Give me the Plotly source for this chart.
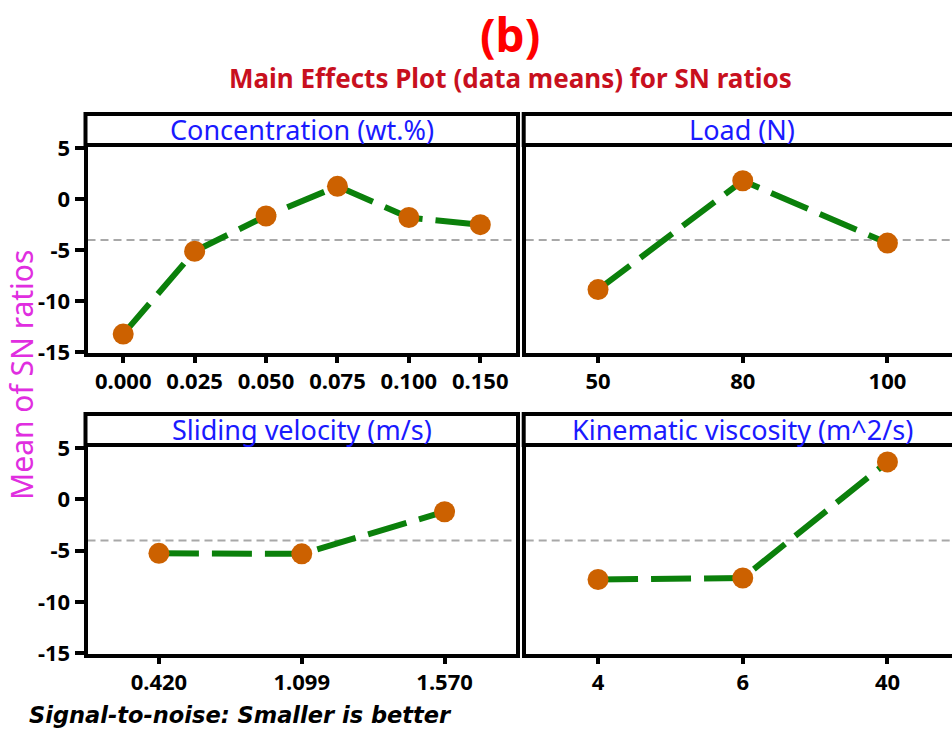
import plotly.graph_objects as go

# Factor levels and mean S/N ratios (smaller-is-better)
conc_levels = ["0.000", "0.025", "0.050", "0.075", "0.100", "0.150"]
conc_sn = [-13.2, -5.1, -1.65, 1.25, -1.8, -2.5]

load_levels = ["50", "80", "100"]
load_sn = [-8.85, 1.8, -4.3]

vel_levels = ["0.420", "1.099", "1.570"]
vel_sn = [-5.25, -5.3, -1.2]

visc_levels = ["4", "6", "40"]
visc_sn = [-7.8, -7.65, 3.65]

grand_mean = -4.0

panel_titles = ["Concentration (wt.%)", "Load (N)",
                "Sliding velocity (m/s)", "Kinematic viscosity (m^2/s)"]

W, H = 952, 731
FONT = "Noto Sans"
LINE_GREEN = "#0b800b"
MARKER_ORANGE = "#cc6100"


def px_x(p):
    return p / W


def px_y(p):
    return 1 - p / H


# panel geometry (pixels)
left_x = (87.5, 516.0)
right_x = (525.7, 952.0)
top_y = (147.0, 353.0)
bot_y = (447.0, 654.0)

panels = [
    (conc_levels, conc_sn, left_x, top_y, [-0.5, 5.5]),
    (load_levels, load_sn, right_x, top_y, [-0.5, 2.446]),
    (vel_levels, vel_sn, left_x, bot_y, [-0.5, 2.5]),
    (visc_levels, visc_sn, right_x, bot_y, [-0.5, 2.446]),
]

fig = go.Figure()
layout = dict(
    width=W, height=H,
    margin=dict(l=0, r=0, t=0, b=0, autoexpand=False),
    paper_bgcolor="white", plot_bgcolor="white",
    showlegend=False,
    font=dict(family=FONT, color="black"),
)

shapes = []
annotations = []

for i, (levels, vals, xs, ys, xr) in enumerate(panels, start=1):
    xa = "x" if i == 1 else f"x{i}"
    ya = "y" if i == 1 else f"y{i}"
    is_left = i in (1, 3)

    fig.add_trace(go.Scatter(
        x=levels, y=vals, xaxis=xa, yaxis=ya, mode="lines+markers",
        line=dict(color=LINE_GREEN, width=6, dash="40px,13px"),
        marker=dict(color=MARKER_ORANGE, size=21, line=dict(width=0)),
        cliponaxis=False,
    ))

    layout["xaxis" if i == 1 else f"xaxis{i}"] = dict(
        type="category", domain=[px_x(xs[0]), px_x(xs[1])], anchor=ya,
        range=xr, showgrid=False, zeroline=False, automargin=False,
        showline=True, linecolor="black", linewidth=4, mirror=True,
        ticks="outside", ticklen=6, tickwidth=4, tickcolor="black",
        tickfont=dict(family=FONT, size=22, color="black", weight="bold"),
    )
    layout["yaxis" if i == 1 else f"yaxis{i}"] = dict(
        domain=[px_y(ys[1]), px_y(ys[0])], anchor=xa,
        range=[-15.05, 5.1], showgrid=False, zeroline=False, automargin=False,
        showline=True, linecolor="black", linewidth=4,
        mirror=True if is_left else False,
        tickvals=[5, 0, -5, -10, -15] if is_left else [],
        ticktext=["5", "0", "-5", "-10", "-15"] if is_left else [],
        showticklabels=is_left,
        ticks="outside" if is_left else "", ticklen=9, tickwidth=4, tickcolor="black",
        tickfont=dict(family=FONT, size=22, color="black", weight="bold"),
    )

    # grand mean reference line
    shapes.append(dict(
        type="line", xref=f"{xa} domain", yref=ya, x0=0, x1=1,
        y0=grand_mean, y1=grand_mean,
        line=dict(color="#a8a8a8", width=2, dash="8px,5px"), layer="below",
    ))

    # strip box above each panel
    strip_top = ys[0] - 33
    x0 = xs[0] - 2
    x1 = xs[1] + 2 if is_left else W + 10
    shapes.append(dict(
        type="rect", xref="paper", yref="paper",
        x0=px_x(x0), x1=px_x(x1), y0=px_y(ys[0] - 2), y1=px_y(strip_top),
        line=dict(color="black", width=4), fillcolor="rgba(0,0,0,0)",
    ))
    cx = (xs[0] + xs[1]) / 2 if is_left else 742.3
    annotations.append(dict(
        text=panel_titles[i - 1], xref="paper", yref="paper",
        x=px_x(cx), y=px_y((strip_top + ys[0] - 2) / 2),
        xanchor="center", yanchor="middle", showarrow=False,
        font=dict(family=FONT, size=27, color="#1a1aff"),
    ))

# headings
annotations.append(dict(
    text="(b)", xref="paper", yref="paper", x=px_x(510), y=px_y(34),
    xanchor="center", yanchor="middle", showarrow=False,
    font=dict(family=FONT, size=46, color="#ff0000", weight="bold"),
))
annotations.append(dict(
    text="Main Effects Plot (data means) for SN ratios", xref="paper", yref="paper",
    x=px_x(510), y=px_y(78), xanchor="center", yanchor="middle", showarrow=False,
    font=dict(family=FONT, size=26, color="#c8101e", weight="bold"),
))
annotations.append(dict(
    text="Mean of SN ratios", xref="paper", yref="paper",
    x=px_x(22), y=px_y(375), xanchor="center", yanchor="middle", textangle=-90,
    showarrow=False, font=dict(family=FONT, size=30, color="#e02ee0"),
))
annotations.append(dict(
    text="<i>Signal-to-noise: Smaller is better</i>", xref="paper", yref="paper",
    x=px_x(27), y=px_y(729.5), xanchor="left", yanchor="bottom", showarrow=False,
    font=dict(family="DejaVu Sans", size=22.5, color="black", weight="bold"),
))

layout["shapes"] = shapes
layout["annotations"] = annotations
fig.update_layout(**layout)
fig.write_html("out.html")
